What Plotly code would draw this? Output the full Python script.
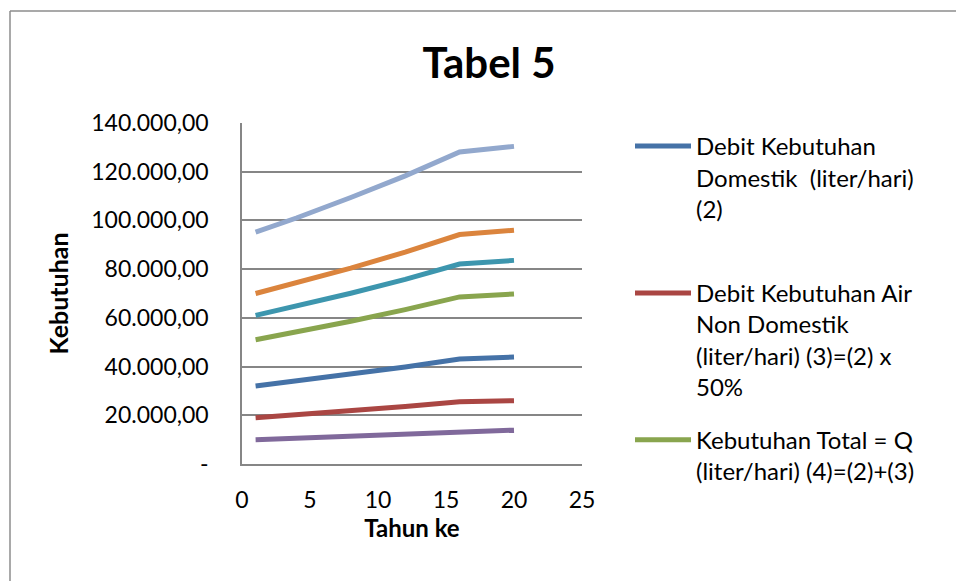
import plotly.graph_objects as go

# ---- data ----
tahun = [1, 4, 8, 12, 16, 20]

domestik      = [32000, 34000, 36800, 39800, 43100, 43900]
non_domestik  = [19000, 20200, 21800, 23600, 25600, 26000]
total_q       = [51000, 54100, 58600, 63400, 68600, 69800]
seri_4        = [10000, 10600, 11500, 12400, 13500, 13900]
seri_5        = [61000, 64700, 70100, 75800, 82100, 83600]
seri_6        = [70000, 74300, 80400, 87000, 94200, 96000]
seri_7        = [95200, 101000, 109400, 118300, 128100, 130400]

series_names = [
    "Debit Kebutuhan<br>Domestik  (liter/hari)<br>(2)<br>&nbsp;",
    "Debit Kebutuhan Air<br>Non Domestik<br>(liter/hari) (3)=(2) x<br>50%",
    "Kebutuhan Total = Q<br>(liter/hari) (4)=(2)+(3)",
    "Seri 4", "Seri 5", "Seri 6", "Seri 7",
]
series_values = [domestik, non_domestik, total_q, seri_4, seri_5, seri_6, seri_7]
colors = ["#4572A7", "#AA4643", "#89A54E", "#80699B", "#3D96AE", "#DB843D", "#92A8CD"]

y_tickvals = [0, 20000, 40000, 60000, 80000, 100000, 120000, 140000]
y_ticktext = ["-", "20.000,00", "40.000,00", "60.000,00", "80.000,00",
              "100.000,00", "120.000,00", "140.000,00"]

FONT = "Lato"

fig = go.Figure()
for i, (name, vals, col) in enumerate(zip(series_names, series_values, colors)):
    fig.add_trace(go.Scatter(
        x=tahun, y=vals, mode="lines", name=name,
        line=dict(color=col, width=5),
        showlegend=(i < 3), legendgroup=f"g{i}",
    ))

# plot area pixel geometry
L, R, T, B = 242, 374, 123, 117
W, H = 956, 581
pw, ph = W - L - R, H - T - B

def px_x(p):
    return (p - L) / pw

def px_y(p):
    return (H - B - p) / ph

fig.update_layout(
    width=W, height=H,
    margin=dict(l=L, r=R, t=T, b=B, autoexpand=False),
    paper_bgcolor="white", plot_bgcolor="white",
    font=dict(family=FONT, size=23, color="black"),
    title=dict(text="<b>Tabel 5</b>", font=dict(family=FONT, size=42, color="black"),
               x=489 / W, xanchor="center",
               y=1 - 63 / H, yanchor="middle"),
    showlegend=True,
    legend=dict(
        x=px_x(630), xanchor="left", y=px_y(124), yanchor="top",
        font=dict(family=FONT, size=24, color="black"),
        valign="top", tracegroupgap=19, itemwidth=56,
        bgcolor="rgba(0,0,0,0)", maxheight=560,
    ),
    xaxis=dict(
        range=[0, 25], dtick=5, tick0=0,
        showgrid=False, zeroline=False,
        showline=True, linecolor="#868686", linewidth=1.5,
        ticks="", ticklabelstandoff=15,
        tickfont=dict(family=FONT, size=23, color="black"),
        title=dict(text="<b>Tahun ke</b>", font=dict(family=FONT, size=24, color="black"),
                   standoff=7),
        fixedrange=True,
    ),
    yaxis=dict(
        range=[0, 140000], tickvals=y_tickvals, ticktext=y_ticktext,
        showgrid=True, gridcolor="#868686", gridwidth=1.5,
        zeroline=False,
        showline=True, linecolor="#868686", linewidth=1.5,
        ticks="", ticklabelstandoff=27,
        tickfont=dict(family=FONT, size=23, color="black"),
        title=dict(text="<b>Kebutuhan</b>", font=dict(family=FONT, size=25, color="black"),
                   standoff=16),
        fixedrange=True,
    ),
    shapes=[
        # chart border (left and top edges visible in the reference)
        dict(type="line", xref="paper", yref="paper",
             x0=px_x(10), x1=px_x(10), y0=px_y(600), y1=px_y(11),
             line=dict(color="#8C8C8C", width=1.5)),
        dict(type="line", xref="paper", yref="paper",
             x0=px_x(10), x1=px_x(1000), y0=px_y(11), y1=px_y(11),
             line=dict(color="#8C8C8C", width=1.5)),
    ],
)

fig.write_html("out.html", config={"displayModeBar": False},
               post_script="document.body.style.margin='0';")
